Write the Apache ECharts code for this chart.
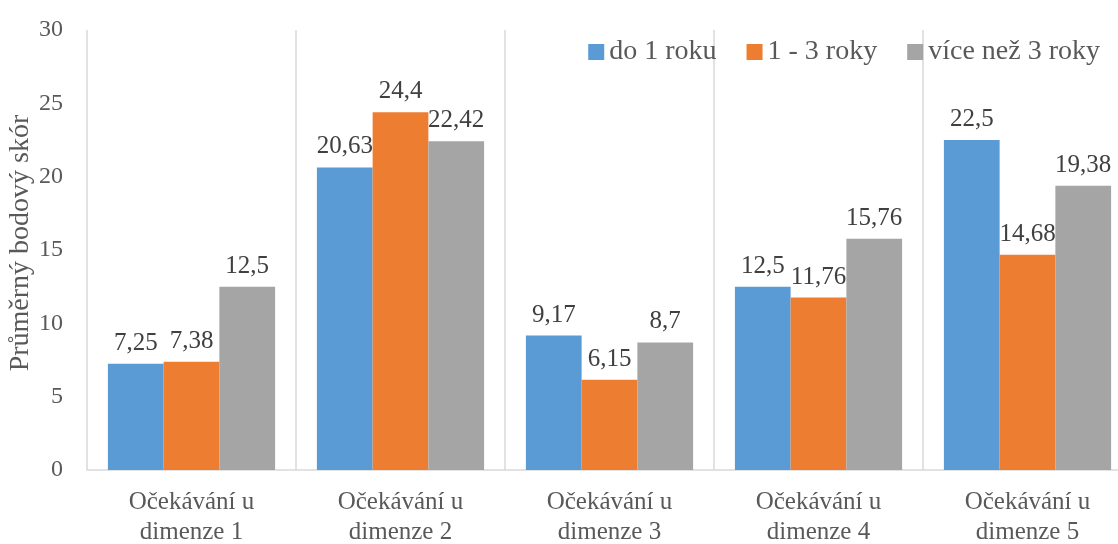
<!DOCTYPE html>
<html>
<head>
<meta charset="utf-8">
<script src="https://cdn.jsdelivr.net/npm/echarts@6/dist/echarts.min.js"></script>
<style>
html, body { margin: 0; padding: 0; background: #fff; }
#chart { width: 1118px; height: 544px; }
</style>
</head>
<body>
<div id="chart"></div>
<script>
// kategorie a hodnoty
var categories = ['Očekávání u\ndimenze 1', 'Očekávání u\ndimenze 2', 'Očekávání u\ndimenze 3', 'Očekávání u\ndimenze 4', 'Očekávání u\ndimenze 5'];
var do1roku = [7.25, 20.63, 9.17, 12.5, 22.5];
var roky1az3 = [7.38, 24.4, 6.15, 11.76, 14.68];
var viceNez3 = [12.5, 22.42, 8.7, 15.76, 19.38];
var seriesNames = ['do 1 roku', '1 - 3 roky', 'více než 3 roky'];
var colors = ['#5B9BD5', '#ED7D31', '#A5A5A5'];

var fontFamily = '"Liberation Serif", "DejaVu Serif", serif';

function makeSeries(name, data, color) {
    return {
        name: name,
        type: 'bar',
        data: data,
        barGap: '0%',
        barCategoryGap: '20%',
        itemStyle: { color: color },
        label: {
            show: true,
            position: 'top',
            distance: 8,
            color: '#404040',
            fontFamily: fontFamily,
            fontSize: 25,
            formatter: function (p) {
                return String(p.value).replace('.', ',');
            }
        }
    };
}

var option = {
    animation: false,
    color: colors,
    textStyle: { fontFamily: fontFamily },
    legend: {
        top: 33,
        right: 13,
        itemWidth: 16,
        itemHeight: 16,
        itemGap: 30,
        icon: 'rect',
        textStyle: { color: '#595959', fontSize: 28, fontFamily: fontFamily },
        data: seriesNames
    },
    grid: {
        left: 87,
        width: 1045,
        top: 30,
        bottom: 74,
        outerBoundsMode: 'none'
    },
    xAxis: {
        type: 'category',
        data: categories,
        axisLine: { show: true, lineStyle: { color: '#d9d9d9', width: 1.5 } },
        axisTick: { show: false },
        splitLine: { show: true, interval: 0, lineStyle: { color: '#d9d9d9', width: 1.5 } },
        axisLabel: {
            color: '#595959',
            fontSize: 25,
            fontFamily: fontFamily,
            lineHeight: 30,
            margin: 17,
            interval: 0
        }
    },
    yAxis: {
        type: 'value',
        min: 0,
        max: 30,
        interval: 5,
        name: 'Průměrný bodový skór',
        nameLocation: 'middle',
        nameGap: 52,
        nameMoveOverlap: false,
        nameTextStyle: { color: '#595959', fontSize: 28, fontFamily: fontFamily, padding: [0, 0, 0, 14] },
        axisLine: { show: false },
        axisTick: { show: false },
        splitLine: { show: false },
        axisLabel: { color: '#595959', fontSize: 24, fontFamily: fontFamily, margin: 24 }
    },
    series: [
        makeSeries(seriesNames[0], do1roku, colors[0]),
        makeSeries(seriesNames[1], roky1az3, colors[1]),
        makeSeries(seriesNames[2], viceNez3, colors[2])
    ]
};

var chart = echarts.init(document.getElementById('chart'));
chart.setOption(option);
</script>
</body>
</html>
